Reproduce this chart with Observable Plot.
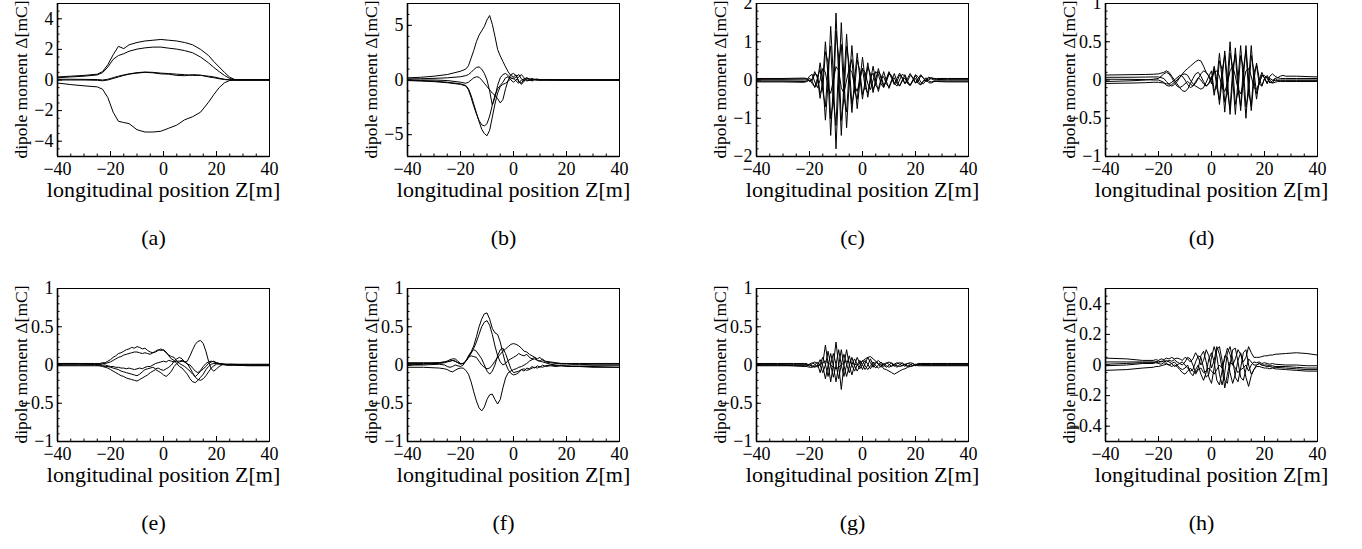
<!DOCTYPE html>
<html><head><meta charset="utf-8">
<script src="https://cdn.jsdelivr.net/npm/d3@7"></script>
<script src="https://cdn.jsdelivr.net/npm/@observablehq/plot@0.6"></script>
<style>
html,body{margin:0;padding:0;background:#fff;}
#root{position:relative;width:1362px;height:549px;overflow:hidden;}
.pan{position:absolute;}
#root svg, #root svg text{font-family:"Liberation Serif","DejaVu Serif",serif !important;}
</style></head>
<body><div id="root"></div>
<script>
// ---------- data ----------
const xTickValues = [-40, -20, 0, 20, 40];
const captions = ["(a)", "(b)", "(c)", "(d)", "(e)", "(f)", "(g)", "(h)"];
const xTitle = "longitudinal position Z[m]";
const yTitle = "dipole moment \u0394[mC]";

// panel (a)
const zA = [-40,-35,-30,-25,-23,-21,-19,-17,-15,-13,-10,-7,-4,-1,2,5,8,11,14,17,19,21,23,25,27,30,35,40];
const dipoleA = [
  [0.2,0.25,0.3,0.38,0.55,1.0,1.65,2.2,2.05,2.3,2.45,2.55,2.6,2.65,2.6,2.55,2.45,2.3,2.0,1.6,1.2,0.85,0.5,0.18,0.02,0.02,0.02,0.02],
  [0.15,0.2,0.25,0.33,0.48,0.85,1.35,1.6,1.72,1.88,2.02,2.1,2.15,2.15,2.08,2.02,1.92,1.78,1.5,1.12,0.82,0.55,0.3,0.1,0.01,0.01,0.01,0.01],
  [0.05,0.05,0.04,0.03,0.0,0.05,0.15,0.25,0.33,0.4,0.48,0.52,0.5,0.45,0.42,0.38,0.35,0.3,0.3,0.25,0.2,0.12,0.05,0.02,0.0,0.0,0.0,0.0],
  [0.0,0.0,0.0,-0.02,-0.05,0.0,0.1,0.2,0.3,0.38,0.45,0.5,0.47,0.4,0.38,0.3,0.28,0.35,0.32,0.2,0.15,0.08,0.03,0.0,0.0,0.0,0.0,0.0],
  [-0.2,-0.3,-0.38,-0.45,-0.6,-1.15,-2.1,-2.7,-2.78,-2.85,-3.25,-3.4,-3.4,-3.35,-3.15,-2.95,-2.6,-2.4,-2.1,-1.45,-0.95,-0.5,-0.18,-0.03,0.0,0.0,0.0,0.0]
];

// panel (b)
const zB = [-40,-35,-30,-25,-20,-18,-17,-16,-15,-14,-13,-12,-11,-10,-9,-8,-7,-6,-5,-4,-3,-2,-1,0,1,2,3,4,5,6,7,8,9,10,12,15,20,25,30,40];
const dipoleB = [
  [0.2,0.25,0.35,0.5,0.8,1.0,1.3,2.0,2.7,3.5,4.1,4.5,4.9,5.5,5.9,5.1,4.0,2.8,2.2,1.7,1.2,0.75,0.4,0.3,0.45,-0.2,-0.3,0.1,0.2,0.0,0.1,0.05,0.1,0.0,0.05,0.02,0.0,0.0,0.0,0.0],
  [0.1,0.12,0.15,0.2,0.3,0.4,0.5,0.7,0.95,1.15,1.2,1.0,0.6,0.0,-1.0,-2.3,-1.6,-0.5,0.2,0.5,0.6,0.4,0.2,0.1,0.3,0.5,0.1,-0.1,0.1,0.15,0.0,0.08,0.0,0.05,0.0,0.02,0.0,0.0,0.0,0.0],
  [0.0,0.0,0.0,-0.05,-0.2,-0.3,-0.2,0.0,0.2,0.3,0.25,0.0,-0.3,-0.6,-0.9,-1.2,-1.4,-1.7,-2.1,-1.8,-0.8,0.0,0.5,0.6,0.4,-0.1,-0.4,-0.1,0.2,0.1,-0.1,0.05,0.0,0.0,0.0,0.0,0.0,0.0,0.0,0.0],
  [-0.05,-0.1,-0.15,-0.25,-0.4,-0.55,-0.9,-1.6,-2.4,-3.1,-3.7,-4.1,-4.2,-4.0,-3.3,-2.3,-1.4,-0.8,-0.5,-0.2,0.2,0.3,0.0,-0.2,0.0,0.3,0.5,0.2,-0.1,0.0,0.15,0.0,0.05,0.0,0.02,0.0,0.0,0.0,0.0,0.0],
  [0.0,-0.05,-0.1,-0.2,-0.35,-0.5,-0.8,-1.4,-2.2,-3.0,-3.8,-4.5,-4.9,-5.1,-4.6,-3.4,-2.2,-1.2,-0.6,-0.4,-0.3,-0.1,0.1,0.2,-0.1,-0.3,0.0,0.1,0.0,-0.05,0.0,0.03,0.0,0.0,0.0,0.0,0.0,0.0,0.0,0.0]
];

// panel (c)
const zC = [-40,-30,-22,-21,-20,-19,-18,-17,-16,-15,-14,-13,-12,-11,-10,-9,-8,-7,-6,-5,-4,-3,-2,-1,0,1,2,3,4,5,6,7,8,9,10,11,12,13,14,15,16,17,18,19,20,21,22,23,24,25,26,27,28,32,40];
const dipoleC = [
  [0.04,0.04, 0.05,0.04,-0.04,0.03,0.22,0.05,-0.48,0.0,1.0,0.1, -1.45,-0.1,1.75,0.1,-1.45,-0.05,1.2,0.05,-0.85,0.0, 0.7,0.05,-0.5,0.0,0.45,0.02,-0.33,0.02,0.3,0.03, -0.18,0.03,0.22,0.04,-0.12,0.04,0.18,0.04,-0.1,0.04, 0.17,0.04,-0.08,0.04,0.14,0.04,-0.04,0.04,0.06,0.04, 0.04, 0.04,0.04],
  [-0.03,-0.03, -0.04,-0.03,0.05,-0.03,-0.2,-0.04,0.45,0.0,-1.05,-0.1, 1.4,0.1,-1.8,-0.1,1.5,0.05,-1.25,-0.05,0.9,0.0, -0.75,-0.05,0.6,0.0,-0.45,-0.02,0.36,-0.02,-0.3,-0.03, 0.22,-0.03,-0.22,-0.03,0.17,-0.03,-0.16,-0.03,0.14,-0.03, -0.14,-0.03,0.12,-0.03,-0.12,-0.03,0.06,-0.03,-0.05,-0.03, -0.03, -0.03,-0.03],
  [0.02,0.02, 0.03,0.03,-0.03,-0.02,0.16,0.13,-0.34,-0.24,0.74,0.46, -1.02,-0.54,1.28,0.6,-1.06,-0.45,0.88,0.39,-0.63,-0.26, 0.52,0.24,-0.38,-0.16,0.34,0.16,-0.24,-0.09,0.22,0.11, -0.14,-0.05,0.16,0.08,-0.1,-0.04,0.13,0.07,-0.09,-0.03, 0.12,0.07,-0.08,-0.03,0.11,0.06,-0.04,0.0,0.05,0.03, 0.01, 0.02,0.02],
  [-0.05,-0.05, -0.06,-0.04,0.0,-0.09,-0.18,0.05,0.28,-0.28,-0.7,0.33, 0.89,-0.53,-1.19,0.45,0.93,-0.45,-0.83,0.27,0.54,-0.29, -0.51,0.14,0.31,-0.2,-0.34,0.07,0.18,-0.15,-0.23,0.03, 0.09,-0.11,-0.18,0.0,0.06,-0.1,-0.15,0.0,0.05,-0.09, -0.14,-0.01,0.04,-0.09,-0.13,-0.02,0.0,-0.07,-0.08,-0.04, -0.04, -0.05,-0.05],
  [0.0,0.0, 0.0,0.0,0.1,0.15,-0.05,-0.2,0.0,0.3,0.2,-0.2, -0.35,0.0,0.35,0.25,-0.2,-0.35,0.0,0.3,0.2,-0.15, -0.3,0.0,0.28,0.2,-0.1,-0.25,0.0,0.22,0.15,-0.1, -0.2,0.0,0.18,0.12,-0.08,-0.16,0.0,0.15,0.1,-0.08, -0.14,0.0,0.14,0.08,-0.06,-0.1,0.0,0.08,0.03,0.0, 0.0, 0.0,0.0]
];

// panel (d)
const zD = [-40,-30,-25,-22,-20,-18,-17,-16,-15,-14,-13,-12,-11,-10,-9,-8,-7,-6,-5,-4,-3,-2,-1,0,1,2,3,4,5,6,7,8,9,10,11,12,13,14,15,16,17,18,19,20,21,22,23,24,25,26,27,28,32,40];
const dipoleD = [
  [0.065,0.07,0.072,0.075,0.08, 0.1,0.12,0.1,0.05,0.0,-0.05,-0.1,-0.14,-0.15,-0.12, -0.05,0.02,0.08,0.1,0.05,-0.02,-0.08,-0.05,0.05,-0.2, 0.0,0.35,0.0,-0.42,0.0,0.5,0.02,-0.45,0.0,0.45, 0.0,-0.5,0.0,0.45,0.0,-0.25,0.0,0.1,0.02,-0.05, 0.05,0.08,0.05,0.03,0.05,0.06,0.05, 0.05,0.04],
  [0.035,0.036,0.038,0.04,0.04, 0.02,-0.02,-0.06,-0.08,-0.06,-0.02,0.03,0.08,0.12,0.15, 0.18,0.21,0.24,0.26,0.25,0.18,0.1,0.05,0.0,0.18, 0.0,-0.32,0.0,0.38,0.0,-0.45,0.0,0.42,0.0,-0.4, 0.0,0.45,0.0,-0.4,0.0,0.22,0.02,-0.08,0.02,0.06, 0.0,-0.04,0.02,0.03,0.02,0.02,0.02, 0.02,0.02],
  [0.01,0.008,0.005,0.0,0.0, -0.03,-0.07,-0.08,-0.06,-0.03,0.0,0.04,0.07,0.08,0.06, 0.0,-0.05,-0.08,-0.1,-0.12,-0.1,-0.03,0.05,0.12,-0.14, -0.1,0.25,0.14,-0.29,-0.16,0.35,0.17,-0.32,-0.15,0.32, 0.16,-0.35,-0.18,0.32,0.12,-0.18,-0.05,0.07,0.03,-0.04, 0.02,0.0,-0.01,0.0,0.0,0.0,0.0, 0.0,0.0],
  [-0.02,-0.01,0.0,0.01,0.02, 0.08,0.1,0.08,0.03,-0.03,-0.08,-0.1,-0.08,-0.05,-0.02, -0.05,-0.08,-0.04,0.02,0.08,0.12,0.1,0.05,-0.05,0.15, -0.09,-0.26,0.12,0.32,-0.14,-0.38,0.14,0.34,-0.13,-0.34, 0.14,0.38,-0.16,-0.34,0.1,0.19,-0.05,-0.08,0.02,0.04, -0.04,-0.01,0.02,-0.01,-0.01,-0.01,-0.01, -0.01,-0.01],
  [-0.045,-0.04,-0.035,-0.03,-0.03, -0.04,-0.05,-0.05,-0.03,0.0,0.03,0.06,0.05,0.0,-0.06, -0.1,-0.08,-0.02,0.03,0.0,-0.05,-0.08,-0.04,0.02,0.1, 0.12,0.05,-0.1,-0.15,-0.05,0.12,0.18,0.05,-0.12,-0.18, -0.05,0.12,0.15,0.05,-0.1,-0.12,-0.04,0.05,0.06,0.02, -0.03,-0.04,-0.03,-0.02,-0.02,-0.02,-0.02, -0.02,-0.02]
];

// panel (e)
const zE = [-40,-32,-26,-24,-23,-22,-21,-20,-19,-18,-17,-16,-15,-14,-13,-12,-11,-10,-9,-8,-7,-6,-5,-4,-3,-2,-1,0,1,2,3,4,5,6,7,8,9,10,11,12,13,14,15,16,17,18,19,20,21,22,23,24,26,32,40];
const dipoleE = [
  [0.02,0.02,0.02, 0.02,0.03,0.03,0.05,0.07,0.1,0.12,0.15,0.16,0.18, 0.2,0.21,0.23,0.22,0.24,0.23,0.21,0.22,0.19,0.17, 0.16,0.17,0.19,0.21,0.19,0.16,0.13,0.11,0.1,0.05, 0.02,0.0,-0.02,-0.05,-0.08,-0.12,-0.15,-0.12,-0.08,-0.05, -0.02,0.02,0.04,0.05,0.03,0.02,0.02,0.01,0.01, 0.01,0.01,0.01],
  [0.01,0.01,0.01, 0.01,0.02,0.02,0.03,0.04,0.06,0.08,0.1,0.11,0.13, 0.14,0.15,0.16,0.17,0.17,0.16,0.15,0.16,0.15,0.14, 0.16,0.18,0.2,0.19,0.2,0.17,0.12,0.08,0.06,0.02, -0.02,-0.04,-0.08,-0.12,-0.18,-0.22,-0.23,-0.2,-0.16,-0.12, -0.06,-0.02,0.01,0.02,0.02,0.01,0.01,0.01,0.0, 0.0,0.0,0.0],
  [0.0,0.0,0.0, -0.01,-0.02,-0.03,-0.04,-0.06,-0.08,-0.1,-0.12,-0.14,-0.15, -0.17,-0.18,-0.19,-0.2,-0.21,-0.19,-0.17,-0.15,-0.13,-0.1, -0.08,-0.06,-0.08,-0.1,-0.13,-0.15,-0.12,-0.08,-0.02,0.02, 0.04,0.05,0.04,0.02,-0.04,-0.1,-0.16,-0.19,-0.2,-0.18, -0.14,-0.09,-0.04,-0.01,0.01,0.02,0.01,0.0,0.0, 0.0,-0.01,-0.01],
  [-0.01,-0.01,-0.01, -0.01,-0.01,-0.02,-0.02,-0.03,-0.04,-0.05,-0.06,-0.08,-0.09, -0.1,-0.11,-0.12,-0.13,-0.14,-0.12,-0.09,-0.06,-0.05,-0.04, -0.03,-0.05,-0.04,-0.06,-0.07,-0.05,-0.03,0.0,0.05,0.08, 0.1,0.08,0.04,0.01,0.0,-0.04,-0.08,-0.1,-0.07,-0.02, 0.02,0.04,0.05,0.04,0.03,0.02,0.01,0.01,0.0, 0.0,0.0,0.0],
  [0.02,0.02,0.01, 0.01,0.0,0.0,-0.01,-0.02,-0.02,-0.03,-0.03,-0.04,-0.04, -0.05,-0.04,-0.05,-0.06,-0.05,-0.04,-0.05,-0.03,-0.02,-0.02, 0.0,0.02,0.03,0.04,0.05,0.04,0.06,0.05,0.04,0.05, 0.05,0.06,0.04,0.05,0.12,0.2,0.27,0.31,0.32,0.28, 0.18,0.05,-0.05,-0.08,-0.05,-0.02,0.0,0.01,0.01, 0.01,0.0,0.0]
];

// panel (f)
const zF = [-40,-34,-28,-26,-25,-24,-23,-22,-21,-20,-19,-18,-17,-16,-15,-14,-13,-12,-11,-10,-9,-8,-7,-6,-5,-4,-3,-2,-1,0,1,2,3,4,5,6,7,8,9,10,11,12,14,16,18,20,22,25,30,40];
const dipoleF = [
  [0.03,0.03,0.03, 0.04,0.05,0.07,0.08,0.08,0.05,0.02,0.02,0.05,0.1, 0.17,0.25,0.37,0.5,0.6,0.67,0.68,0.6,0.48,0.42, 0.4,0.3,0.15,0.02,-0.06,-0.11,-0.13,-0.12,-0.1,-0.06, -0.08,-0.04,-0.05,-0.02,-0.04,-0.01,-0.03,0.0,-0.02, -0.01,-0.02,-0.01,-0.02,-0.02,-0.02,-0.03,-0.03],
  [0.02,0.02,0.02, 0.03,0.04,0.05,0.06,0.05,0.03,0.01,0.02,0.05,0.1, 0.15,0.22,0.3,0.4,0.5,0.56,0.58,0.52,0.4,0.25, 0.12,0.04,0.0,0.02,0.06,0.08,0.1,0.12,0.15,0.13, 0.12,0.14,0.1,0.08,0.1,0.06,0.05,0.08,0.04, 0.03,0.02,0.02,0.02,0.02,0.02,0.02,0.02],
  [0.0,0.0,0.01, 0.0,-0.02,-0.03,-0.02,0.0,-0.01,-0.02,0.0,0.05,0.12, 0.17,0.2,0.18,0.13,0.08,0.0,-0.08,-0.12,-0.08,0.0, 0.12,0.2,0.22,0.15,0.05,-0.05,-0.1,-0.09,-0.08,-0.06, -0.05,-0.07,-0.06,-0.04,-0.03,-0.04,-0.02,-0.03,-0.01, 0.0,-0.01,0.0,0.0,0.0,0.0,0.0,0.0],
  [-0.03,-0.03,-0.04, -0.05,-0.06,-0.08,-0.09,-0.07,-0.05,-0.04,-0.04,-0.07,-0.12, -0.22,-0.35,-0.47,-0.56,-0.6,-0.55,-0.45,-0.39,-0.38,-0.45, -0.51,-0.45,-0.3,-0.17,-0.1,-0.08,-0.06,-0.05,-0.03,-0.02, 0.0,0.02,0.05,0.07,0.08,0.06,0.05,0.04,0.03, 0.01,0.0,-0.01,-0.01,-0.02,-0.02,-0.02,-0.03],
  [0.0,0.01,0.03, 0.04,0.05,0.05,0.06,0.05,0.03,0.02,0.02,0.05,0.1, 0.12,0.11,0.1,0.05,0.0,-0.03,-0.05,-0.04,0.0,0.05, 0.1,0.14,0.18,0.21,0.24,0.27,0.28,0.27,0.25,0.22, 0.18,0.17,0.14,0.12,0.1,0.08,0.1,0.06,0.05, 0.04,0.03,0.02,0.02,0.01,0.01,0.0,0.0]
];

// panel (g)
const zG = [-40,-32,-26,-22,-21,-20,-19,-18,-17,-16,-15,-14,-13,-12,-11,-10,-9,-8,-7,-6,-5,-4,-3,-2,-1,0,1,2,3,4,5,6,7,8,9,10,11,12,13,14,15,16,17,18,19,20,21,22,26,32,40];
const dipoleG = [
  [0.02,0.02,0.02, 0.02,0.02,-0.02,0.02,0.04,0.02,-0.1,0.02,0.26,0.02, -0.22,0.0,0.3,0.0,-0.32,0.0,0.2,0.0,-0.13,0.0, 0.1,0.02,-0.06,0.02,0.1,0.03,-0.03,0.03,0.06,0.02, -0.02,0.02,0.04,0.02,-0.02,0.02,0.03,0.02,-0.02,0.02, 0.03,0.02,-0.01,0.02,0.02, 0.02,0.02,0.02],
  [-0.01,-0.01,-0.01, -0.01,-0.01,0.01,-0.01,-0.03,-0.01,0.07,-0.01,-0.18,-0.01, 0.15,-0.01,-0.22,-0.01,0.2,-0.01,-0.15,-0.01,0.1,-0.01, -0.08,-0.01,0.06,-0.01,-0.06,-0.01,0.04,-0.01,-0.04,-0.01, 0.02,-0.01,-0.03,-0.01,0.01,-0.01,-0.02,-0.01,0.01,-0.01, -0.02,-0.01,0.0,-0.01,-0.01, -0.01,-0.01,-0.01],
  [0.0,0.0,0.0, 0.0,0.01,0.0,-0.02,0.0,0.04,0.0,-0.1,0.0,0.18, 0.0,-0.16,0.0,0.2,0.0,-0.15,0.0,0.12,0.0,-0.08, 0.0,0.06,0.0,-0.06,0.0,0.08,0.0,-0.04,0.0,0.04, 0.0,-0.03,0.0,0.03,0.0,-0.03,0.0,0.03,0.0,-0.02, 0.0,0.02,0.0,0.0,0.0, 0.0,0.0,0.0],
  [0.01,0.01,0.01, 0.01,0.0,0.01,0.03,0.01,-0.03,0.01,0.1,0.01,-0.15, 0.01,0.15,0.01,-0.18,0.01,0.14,0.01,-0.1,0.01,0.08, 0.01,-0.05,0.01,0.06,0.01,-0.05,0.01,0.04,0.01,-0.03, 0.01,0.03,0.01,-0.02,0.01,0.03,0.01,-0.01,0.01,0.02, 0.01,-0.01,0.01,0.01,0.01, 0.01,0.01,0.01],
  [0.0,0.0,-0.01, -0.02,-0.02,-0.03,-0.03,-0.02,-0.01,0.0,0.03,0.05,0.03, 0.0,-0.03,-0.05,-0.03,0.0,0.03,0.05,0.04,0.02,0.01, 0.0,0.02,0.05,0.08,0.1,0.11,0.08,0.05,0.02,0.0, -0.05,-0.06,-0.08,-0.1,-0.12,-0.1,-0.08,-0.06,-0.05,-0.03, -0.02,-0.01,0.0,0.01,0.01, 0.0,0.0,0.0]
];

// panel (h)
const zH = [-40,-32,-26,-22,-21,-20,-19,-18,-17,-16,-15,-14,-13,-12,-11,-10,-9,-8,-7,-6,-5,-4,-3,-2,-1,0,1,2,3,4,5,6,7,8,9,10,11,12,13,14,15,16,17,18,19,20,21,22,23,24,28,32,36,40];
const dipoleH = [
  [0.045,0.04,0.03, 0.03,0.035,0.03,0.04,0.035,0.045,0.04,0.05,0.04,0.045, 0.04,0.03,0.05,0.04,0.02,0.04,0.08,0.05,0.0,0.03, 0.1,0.06,-0.02,0.03,0.12,0.07,-0.02,0.04,0.11,0.07, 0.0,0.04,0.1,0.07,0.02,0.05,0.12,0.08,0.05,0.05, 0.05,0.055,0.06,0.06,0.065,0.065,0.07, 0.075,0.08,0.075,0.065],
  [0.02,0.02,0.02, 0.02,0.02,0.025,0.02,0.03,0.02,0.03,0.025,0.035,0.02, 0.01,0.0,0.02,0.05,0.04,0.0,-0.05,-0.02,0.06,0.09, 0.02,-0.08,-0.12,-0.02,0.1,0.12,0.03,-0.1,-0.12,0.0, 0.1,0.11,0.02,-0.08,-0.1,-0.03,0.04,0.02,0.0,0.0, 0.01,0.0,0.0,0.0,-0.005,-0.005,-0.01, -0.01,-0.015,-0.02,-0.02],
  [0.005,0.01,0.015, 0.015,0.02,0.015,0.025,0.02,0.03,0.02,0.01,0.02,0.0, 0.01,0.02,0.0,-0.02,-0.04,-0.03,0.02,0.06,0.05,-0.02, -0.08,-0.06,0.05,0.12,0.06,-0.06,-0.13,-0.05,0.08,0.12, 0.04,-0.08,-0.11,-0.02,0.08,0.1,0.0,-0.06,-0.03,0.0, 0.01,0.0,-0.005,-0.01,-0.01,-0.015,-0.015, -0.02,-0.025,-0.03,-0.03],
  [-0.005,0.0,0.01, 0.01,0.015,0.01,0.005,0.015,0.01,0.0,0.01,-0.01,0.0, -0.02,-0.03,-0.02,0.0,-0.05,-0.07,-0.03,0.0,-0.06,-0.1, -0.05,0.04,0.08,0.02,-0.1,-0.13,-0.04,0.06,0.05,-0.05, -0.12,-0.06,0.03,0.08,0.0,-0.08,-0.14,-0.07,-0.03,-0.01, -0.01,-0.015,-0.02,-0.02,-0.025,-0.02,-0.025, -0.03,-0.035,-0.04,-0.04],
  [-0.035,-0.03,-0.02, -0.015,-0.01,-0.01,-0.005,0.0,0.005,0.0,-0.01,0.0,-0.01, -0.03,-0.05,-0.06,-0.04,-0.02,-0.04,-0.06,-0.03,-0.02,-0.05, -0.04,-0.02,-0.04,-0.06,-0.03,0.0,-0.02,-0.15,-0.06,0.02, 0.0,-0.02,-0.05,-0.03,-0.02,0.0,-0.04,0.0,0.02,0.015, 0.02,0.01,0.015,0.01,0.005,0.01,0.005, 0.0,0.0,-0.005,-0.005]
];

// y scales and tick labels of each panel
const yDomains = [[-5,5],[-7,7],[-2,2],[-1,1],[-1,1],[-1,1],[-1,1],[-0.5,0.5]];
const yTickValues = [[-4,-2,0,2,4],[-5,0,5],[-2,-1,0,1,2],[-1,-0.5,0,0.5,1],[-1,-0.5,0,0.5,1],[-1,-0.5,0,0.5,1],[-1,-0.5,0,0.5,1],[-0.4,-0.2,0,0.2,0.4]];
const yMinorSteps = [0.5,1,0.2,0.1,0.1,0.1,0.1,0.05];
const xMinorStep = 5;

// ---------- drawing ----------
const zs = [zA,zB,zC,zD,zE,zF,zG,zH];
const dipoles = [dipoleA,dipoleB,dipoleC,dipoleD,dipoleE,dipoleF,dipoleG,dipoleH];
const FONT = "Liberation Serif";
const fmt = d => (d < 0 ? "\u2212" + String(-d) : String(d));
const blank = () => "";

const FRAME_LEFT = [57, 407, 756, 1105];
const FRAME_TOP = [3, 288];
const W = 212, H = 153, ML = 80, MR = 10, MT = 10, MB = 110;

const root = document.getElementById("root");
zs.forEach((z, i) => {
  const series = dipoles[i];
  const rows = [];
  series.forEach((s, k) => {
    if (s.length !== z.length) console.warn("length mismatch", i, k, s.length, z.length);
    s.forEach((v, j) => rows.push({z: z[j], v, k}));
  });
  const [y0, y1] = yDomains[i];
  const st = yMinorSteps[i];
  const yMinor = d3.range(y0, y1 + st / 2, st);
  const xMinor = d3.range(-40, 40 + xMinorStep / 2, xMinorStep);
  const svg = Plot.plot({
    width: W + ML + MR, height: H + MT + MB,
    marginLeft: ML, marginRight: MR, marginTop: MT, marginBottom: MB,
    x: {domain: [-40, 40]},
    y: {domain: yDomains[i]},
    style: {fontFamily: FONT, overflow: "visible", background: "transparent", color: "black"},
    marks: [
      Plot.line(rows, {x: "z", y: "v", z: "k", stroke: "black", strokeWidth: 1}),
      Plot.axisX({ticks: xMinor, tickSize: -2.5, tickFormat: blank, label: null}),
      Plot.axisX({ticks: xTickValues, tickSize: -5, tickPadding: 11, tickFormat: fmt, fontSize: 18, label: null}),
      Plot.axisY({ticks: yMinor, tickSize: -2.5, tickFormat: blank, label: null}),
      Plot.axisY({ticks: yTickValues[i], tickSize: -5, tickPadding: 9, tickFormat: fmt, fontSize: 18, label: null}),
      Plot.frame({stroke: "black", strokeWidth: 1}),
      Plot.ruleX([-40], {stroke: "black", strokeWidth: 1.6}),
      Plot.ruleY([y0], {stroke: "black", strokeWidth: 1.6}),
      Plot.text([yTitle], {text: d => d, frameAnchor: "top-left", rotate: -90, textAnchor: "end", dx: -43, dy: -3, fontSize: 17.5}),
      Plot.text([xTitle], {text: d => d, frameAnchor: "bottom", dy: 40, fontSize: 22}),
      Plot.text([captions[i]], {text: d => d, frameAnchor: "bottom", dx: -10, dy: 88, fontSize: 22})
    ]
  });
  const wrap = document.createElement("div");
  wrap.className = "pan";
  wrap.style.left = (FRAME_LEFT[i % 4] - ML) + "px";
  wrap.style.top = (FRAME_TOP[Math.floor(i / 4)] - MT) + "px";
  wrap.appendChild(svg);
  root.appendChild(wrap);
});
</script>
</body></html>
